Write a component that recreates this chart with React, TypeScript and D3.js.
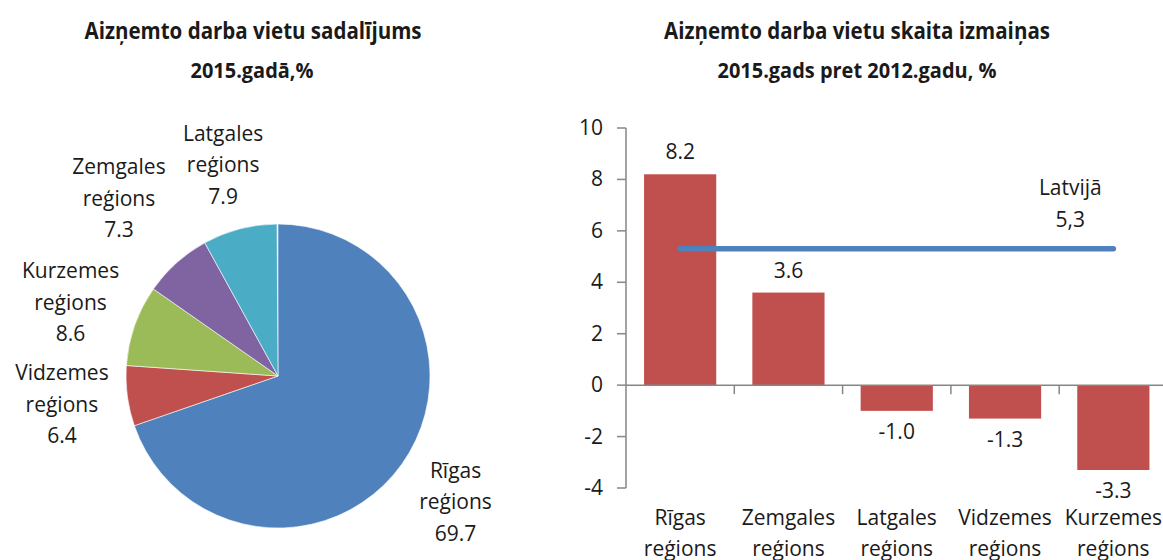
import React from "react";
import * as d3 from "d3";

// ---------- data ----------
const pieNames = ["Rīgas reģions", "Vidzemes reģions", "Kurzemes reģions", "Zemgales reģions", "Latgales reģions"];
const pieValues = [69.7, 6.4, 8.6, 7.3, 7.9];
const pieColors = ["#4F81BD", "#C0504D", "#9BBB59", "#8064A2", "#4BACC6"];

const barCategories = ["Rīgas reģions", "Zemgales reģions", "Latgales reģions", "Vidzemes reģions", "Kurzemes reģions"];
const barValues = [8.2, 3.6, -1.0, -1.3, -3.3];
const latviaValue = 5.3;
const latviaLabel = "5,3";
const yTicks = [-4, -2, 0, 2, 4, 6, 8, 10];

const title1 = ["Aizņemto darba vietu sadalījums", "2015.gadā,%"];
const title2 = ["Aizņemto darba vietu skaita izmaiņas", "2015.gads pret 2012.gadu, %"];

// ---------- layout ----------
const W = 1163;
const H = 560;
const FONT = "'Open Sans', 'Noto Sans', sans-serif";
const TXT = "#1a1a1a";
const FS = 21;

export default function App() {
  // Pie
  const cx = 278, cy = 376, R = 152;
  const pieGen = d3.pie<number>().sort(null).value((d) => d)
    .startAngle(0).endAngle((2 * Math.PI * d3.sum(pieValues)) / 100);
  const arcs = pieGen(pieValues);
  const arcGen = d3.arc<d3.PieArcDatum<number>>().innerRadius(0).outerRadius(R);
  const labelR = [218, 218, 220, 238, 218];
  const lineH = 31.5;

  // Bars
  const y = d3.scaleLinear().domain([-4, 10]).range([488, 128]);
  const x = d3.scaleBand<string>().domain(barCategories).range([626, 1167.5])
    .paddingInner(1 / 3).paddingOuter(1 / 6);
  const axisX = 626;
  const step = x.step();

  const splitLabel = (s: string) => s.split(" ");

  return (
    <svg width={W} height={H} style={{ position: "absolute", left: 0, top: 0, background: "#fff" }}
      fontFamily={FONT}>
      <rect x={0} y={0} width={W} height={H} fill="#fff" />
      {/* Titles */}
      <text x={253} y={39} textAnchor="middle" fontWeight="bold" fontSize={24} fill={TXT}
        textLength={337} lengthAdjust="spacingAndGlyphs">{title1[0]}</text>
      <text x={252} y={78} textAnchor="middle" fontWeight="bold" fontSize={22} fill={TXT}
        textLength={123} lengthAdjust="spacingAndGlyphs">{title1[1]}</text>
      <text x={857} y={39} textAnchor="middle" fontWeight="bold" fontSize={24} fill={TXT}
        textLength={386} lengthAdjust="spacingAndGlyphs">{title2[0]}</text>
      <text x={857} y={78} textAnchor="middle" fontWeight="bold" fontSize={22} fill={TXT}
        textLength={279} lengthAdjust="spacingAndGlyphs">{title2[1]}</text>

      {/* Pie */}
      <g transform={`translate(${cx},${cy})`}>
        {arcs.map((a, i) => (
          <path key={i} d={arcGen(a) || ""} fill={pieColors[i]} stroke="#fff" strokeWidth={0.6} />
        ))}
        {arcs.map((a, i) => {
          const mid = (a.startAngle + a.endAngle) / 2;
          const lx = labelR[i] * Math.sin(mid);
          const ly = -labelR[i] * Math.cos(mid);
          const parts = splitLabel(pieNames[i]);
          const lines = [parts[0], parts[1], pieValues[i].toFixed(1)];
          return (
            <text key={i} textAnchor="middle" fontSize={FS} fill={TXT}>
              {lines.map((l, j) => (
                <tspan key={j} x={lx} y={ly + (j - 1) * lineH + 7}>{l}</tspan>
              ))}
            </text>
          );
        })}
      </g>

      {/* Bar chart axes */}
      <line x1={axisX} x2={axisX} y1={y(10)} y2={y(-4)} stroke="#868686" strokeWidth={1.5} />
      {yTicks.map((t) => (
        <g key={t}>
          <line x1={axisX - 9} x2={axisX} y1={y(t)} y2={y(t)} stroke="#868686" strokeWidth={1.5} />
          <text x={603} y={y(t) + 7} textAnchor="end" fontSize={FS} fill={TXT}>{t}</text>
        </g>
      ))}

      {/* Bars */}
      {barCategories.map((c, i) => {
        const v = barValues[i];
        const y0 = y(Math.max(0, v));
        const h = Math.abs(y(v) - y(0));
        return (
          <rect key={c} x={x(c)} y={y0} width={x.bandwidth()} height={h} fill="#C0504D" />
        );
      })}
      <line x1={axisX} x2={W} y1={y(0)} y2={y(0)} stroke="#868686" strokeWidth={1.5} />
      {barCategories.slice(1).map((c) => (
        <line key={c} x1={(x(c) as number) - step * (1 / 6)} x2={(x(c) as number) - step * (1 / 6)}
          y1={y(0)} y2={y(0) + 9} stroke="#868686" strokeWidth={1.5} />
      ))}

      {/* Value labels */}
      {barCategories.map((c, i) => {
        const v = barValues[i];
        const cxb = (x(c) as number) + x.bandwidth() / 2;
        const ty = v >= 0 ? y(v) - 15 : y(v) + 28;
        return (
          <text key={c} x={cxb} y={ty} textAnchor="middle" fontSize={FS} fill={TXT}>{v.toFixed(1)}</text>
        );
      })}

      {/* Category labels */}
      {barCategories.map((c) => {
        const cxb = (x(c) as number) + x.bandwidth() / 2;
        const parts = splitLabel(c);
        return (
          <text key={c} textAnchor="middle" fontSize={FS} fill={TXT}>
            <tspan x={cxb} y={525}>{parts[0]}</tspan>
            <tspan x={cxb} y={556}>{parts[1]}</tspan>
          </text>
        );
      })}

      {/* Latvija line */}
      {(() => {
        const x1 = (x(barCategories[0]) as number) + x.bandwidth() / 2;
        const x2 = (x(barCategories[barCategories.length - 1]) as number) + x.bandwidth() / 2;
        const ly = y(latviaValue);
        return (
          <g>
            <line x1={x1} x2={x2} y1={ly} y2={ly} stroke="#4F81BD" strokeWidth={5.5} strokeLinecap="round" />
            <text textAnchor="middle" fontSize={FS} fill={TXT}>
              <tspan x={x2 - 43} y={ly - 54}>Latvijā</tspan>
              <tspan x={x2 - 43} y={ly - 22}>{latviaLabel}</tspan>
            </text>
          </g>
        );
      })()}
    </svg>
  );
}
